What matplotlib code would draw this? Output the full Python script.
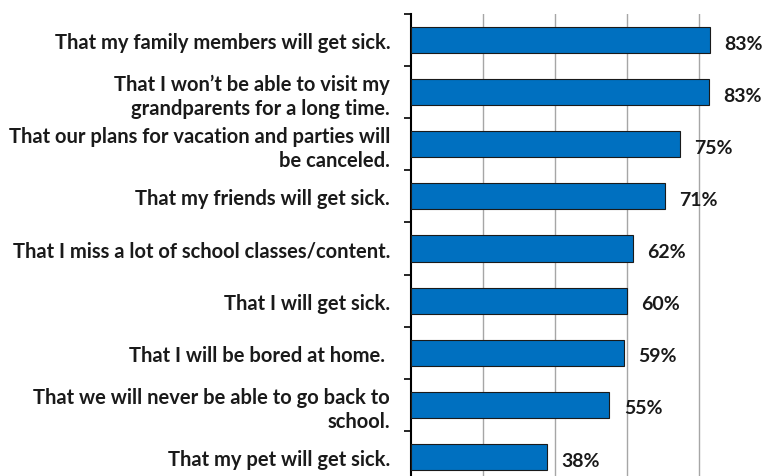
import numpy as np
import matplotlib.pyplot as plt

plt.rcParams['font.family'] = ['Lato', 'DejaVu Sans']

labels = ["That my family members will get sick.",
          "That I won\u2019t be able to visit my\ngrandparents for a long time.",
          "That our plans for vacation and parties will\nbe canceled.",
          "That my friends will get sick.",
          "That I miss a lot of school classes/content.",
          "That I will get sick.",
          "That I will be bored at home. ",
          "That we will never be able to go back to\nschool.",
          "That my pet will get sick."]
values = [83.1, 82.7, 74.7, 70.6, 61.7, 60.0, 59.2, 55.1, 37.9]

fig = plt.figure(figsize=(7.65, 4.77), dpi=100)
ax = fig.add_axes([411 / 765, 1 - 484 / 477, 360 / 765, 469 / 477])

y = np.arange(len(labels))
ax.barh(y, values, height=0.5, color='#0070C0', edgecolor='#1a1a1a', linewidth=0.8, zorder=3)
for yi, v in zip(y, values):
    ax.text(v + 4.0, yi + 0.06, f"{v:.0f}%", va='center', ha='left',
            fontsize=14, fontweight='bold', color='#1a1a1a')

ax.set_xlim(0, 100)
ax.set_ylim(len(labels) - 0.5, -0.5)
ax.set_xticks([20, 40, 60, 80])
ax.xaxis.grid(True, color='#a6a6a6', linewidth=1.0, zorder=0)
ax.tick_params(axis='x', length=0, labelbottom=False)

ax.set_yticks(y)
ax.set_yticklabels(labels, fontsize=14.5, fontweight='bold', color='#1a1a1a', linespacing=1.25)
ax.set_yticks(np.arange(len(labels) + 1) - 0.5, minor=True)
ax.tick_params(axis='y', which='major', length=0, pad=15)
ax.tick_params(axis='y', which='minor', length=5, width=1.2, color='black')

for s in ['top', 'right', 'bottom']:
    ax.spines[s].set_visible(False)
ax.spines['left'].set_linewidth(1.5)

fig.savefig("out.png", dpi=100)
